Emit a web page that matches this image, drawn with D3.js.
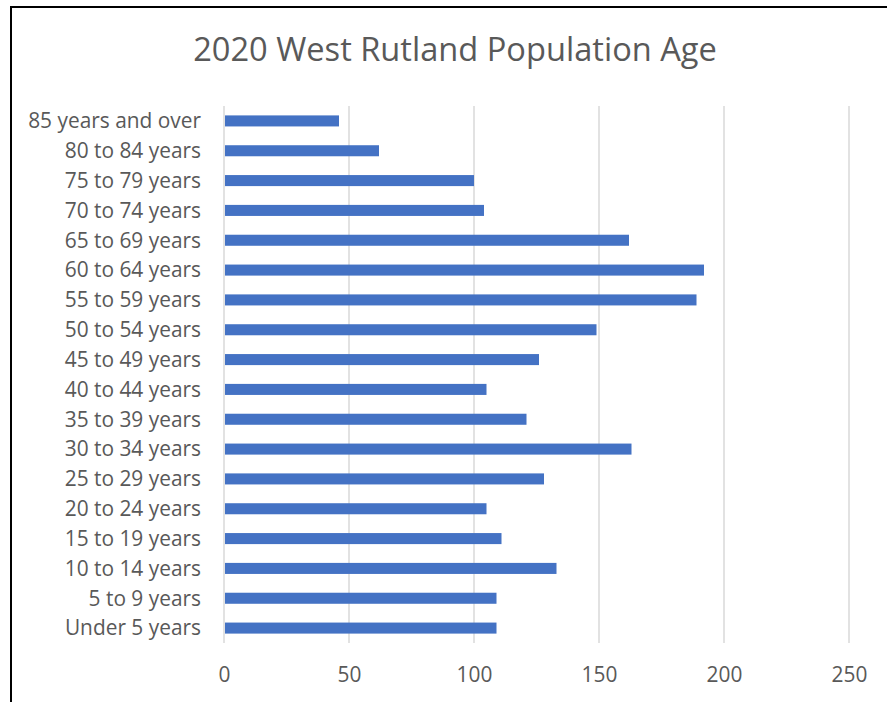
<!DOCTYPE html>
<html><head><meta charset="utf-8">
<script src="https://cdn.jsdelivr.net/npm/d3@7"></script>
<style>html,body{margin:0;padding:0;background:#fff;}svg{display:block;}</style>
</head><body>
<svg id="c" width="887" height="702"></svg>
<script>
const title = "2020 West Rutland Population Age";
const categories = ["85 years and over","80 to 84 years","75 to 79 years","70 to 74 years","65 to 69 years","60 to 64 years","55 to 59 years","50 to 54 years","45 to 49 years","40 to 44 years","35 to 39 years","30 to 34 years","25 to 29 years","20 to 24 years","15 to 19 years","10 to 14 years","5 to 9 years","Under 5 years"];
const values = [46,62,100,104,162,192,189,149,126,105,121,163,128,105,111,133,109,109];
const tickValues = [0,50,100,150,200,250];

const font = "'Open Sans', 'Noto Sans', sans-serif";
const svg = d3.select("#c");
// frame
svg.append("rect").attr("x",11).attr("y",7).attr("width",900).attr("height",720)
  .attr("fill","none").attr("stroke","#000").attr("stroke-width",2);

const x = d3.scaleLinear().domain([0,250]).range([224,849]);
const y = d3.scaleBand().domain(categories).range([106,643]).paddingInner(0.63).paddingOuter(0.315);

// gridlines
svg.append("g").selectAll("line").data(tickValues).join("line")
  .attr("x1",d=>x(d)).attr("x2",d=>x(d)).attr("y1",106).attr("y2",643)
  .attr("stroke","#d9d9d9").attr("stroke-width",1.5);

// bars
svg.append("g").selectAll("rect").data(values).join("rect")
  .attr("x",x(0)+1).attr("y",(d,i)=>y(categories[i]))
  .attr("width",d=>x(d)-x(0)-1).attr("height",y.bandwidth())
  .attr("fill","#4472c4");

// category labels
const yAxis = svg.append("g").attr("transform","translate(201,0)")
  .call(d3.axisLeft(y).tickSize(0).tickPadding(0));
yAxis.select(".domain").remove();
yAxis.selectAll("text").attr("font-family",font).attr("font-size",18).attr("fill","#595959").attr("dy","0.35em");
// fit width of longest label to ~173px
let maxW = 0;
yAxis.selectAll("text").each(function(){maxW=Math.max(maxW,this.getComputedTextLength());});
const ls = 18*173/maxW;
yAxis.selectAll("text").attr("font-size",ls);

// x axis
const xAxis = svg.append("g").attr("transform","translate(0,675)")
  .call(d3.axisBottom(x).tickValues(tickValues).tickSize(0).tickPadding(0));
xAxis.select(".domain").remove();
xAxis.selectAll("text").attr("font-family",font).attr("font-size",ls).attr("fill","#595959").attr("dy","0.35em");

// title
const t = svg.append("text").attr("x",455).attr("y",48).attr("text-anchor","middle")
  .attr("dominant-baseline","central")
  .attr("font-family",font).attr("font-size",28).attr("fill","#595959").text(title);
const tw = t.node().getComputedTextLength();
t.attr("font-size",28*524/tw);
</script>
</body></html>
